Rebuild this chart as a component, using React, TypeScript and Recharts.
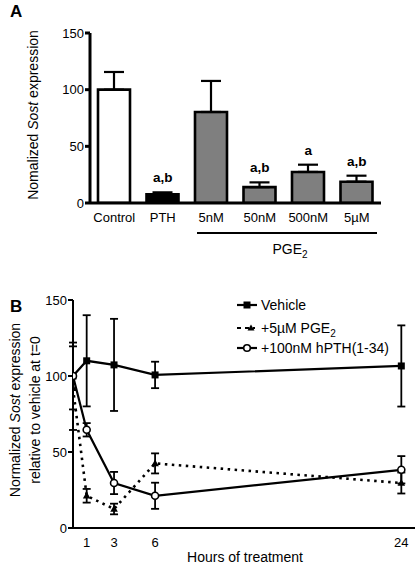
import React from 'react';
import {
  ComposedChart,
  Bar,
  Line,
  XAxis,
  YAxis,
  ErrorBar,
  Cell,
  LabelList,
  LineChart,
} from 'recharts';

// ---------- Panel A data ----------
const categories = ['Control', 'PTH', '5nM', '50nM', '500nM', '5µM'];
const expression = [100, 7.6, 80.3, 14, 27.4, 18.8];
const expressionErr = [15.6, 1.8, 27.4, 4.2, 6.4, 5.3];
const sigLabels = ['', 'a,b', '', 'a,b', 'a', 'a,b'];
const barColors = ['#ffffff', '#000000', '#7f7f7f', '#7f7f7f', '#7f7f7f', '#7f7f7f'];
const yTicksA = [0, 50, 100, 150];

// ---------- Panel B data ----------
const hours = [0, 1, 3, 6, 24];
const vehicle = [100, 110, 107.3, 100.7, 106.6];
const vehicleErr = [22, 30, 30.3, 8.7, 26.7];
const pge2 = [92, 21.2, 12.5, 42.5, 29.6];
const pge2Err = [27.5, 4.5, 3.5, 6.6, 6.9];
const pth = [100, 64.6, 29.6, 21.2, 38.3];
const pthErr = [0, 4.4, 7.3, 8.6, 9];
const xTicksB = [1, 3, 6, 24];
const yTicksB = [0, 50, 100, 150];

const FONT = '"Liberation Sans", Arial, Helvetica, sans-serif';

const dataA = categories.map((c, i) => ({
  name: c,
  value: expression[i],
  err: [0, expressionErr[i]],
  top: expression[i] + expressionErr[i],
  sig: sigLabels[i],
}));

const dataB = hours.map((h, i) => ({
  h,
  vehicle: vehicle[i],
  vehicleErr: vehicleErr[i],
  pge2: pge2[i],
  pge2Err: pge2Err[i],
  pth: pth[i],
  pthErr: pthErr[i],
}));

const SquareDot = (props: any) => {
  const { cx, cy } = props;
  if (cx == null || cy == null) return null;
  return <rect x={cx - 3.5} y={cy - 3.5} width={7} height={7} fill="#000" />;
};
const TriDot = (props: any) => {
  const { cx, cy } = props;
  if (cx == null || cy == null) return null;
  return (
    <polygon
      points={`${cx},${cy - 4} ${cx - 3.8},${cy + 2.8} ${cx + 3.8},${cy + 2.8}`}
      fill="#000"
    />
  );
};
const CircleDot = (props: any) => {
  const { cx, cy } = props;
  if (cx == null || cy == null) return null;
  return <circle cx={cx} cy={cy} r={3.5} fill="#fff" stroke="#000" strokeWidth={1.6} />;
};

const SigLabel = (props: any) => {
  const { x, y, value } = props;
  if (!value) return null;
  return (
    <text
      x={x}
      y={y - 10}
      textAnchor="middle"
      fontFamily={FONT}
      fontWeight="bold"
      fontSize={13.5}
      fill="#000"
    >
      {value}
    </text>
  );
};

export default function App() {
  return (
    <div
      style={{
        position: 'absolute',
        left: 0,
        top: 0,
        width: 419,
        height: 567,
        background: '#fff',
        fontFamily: FONT,
      }}
    >
      {/* Panel A */}
      <div style={{ position: 'absolute', left: 0, top: 0 }}>
        <ComposedChart
          width={419}
          height={280}
          data={dataA}
          margin={{ top: 33, right: 38, bottom: 57, left: 50 }}
          barCategoryGap="17%"
        >
          <XAxis
            dataKey="name"
            axisLine={{ stroke: '#000', strokeWidth: 3 }}
            tickLine={false}
            tick={{ fill: '#000', fontSize: 13, fontFamily: FONT }}
            tickMargin={4}
            height={20}
            interval={0}
          />
          <YAxis
            domain={[0, 150]}
            ticks={yTicksA}
            width={40}
            axisLine={{ stroke: '#000', strokeWidth: 3 }}
            tickLine={{ stroke: '#000', strokeWidth: 3 }}
            tickSize={5}
            tickMargin={1}
            tick={{ fill: '#000', fontSize: 13, fontFamily: FONT }}
            allowDataOverflow
          />
          <Bar dataKey="value" barSize={32} stroke="#000" strokeWidth={2.6} isAnimationActive={false}>
            {dataA.map((d, i) => (
              <Cell key={i} fill={barColors[i]} />
            ))}
            <ErrorBar dataKey="err" direction="y" width={10} stroke="#000" strokeWidth={2.2} />
          </Bar>
          <Line
            dataKey="top"
            stroke="none"
            dot={false}
            activeDot={false}
            isAnimationActive={false}
            legendType="none"
          >
            <LabelList dataKey="sig" content={SigLabel} />
          </Line>
        </ComposedChart>
        <div
          style={{
            position: 'absolute',
            left: 10,
            top: 2,
            fontSize: 17,
            fontWeight: 'bold',
            fontFamily: FONT,
          }}
        >
          A
        </div>
        <svg
          width={419}
          height={280}
          style={{ position: 'absolute', left: 0, top: 0, pointerEvents: 'none' }}
        >
          <text
            transform="translate(38,115) rotate(-90)"
            textAnchor="middle"
            fontFamily={FONT}
            fontSize={14}
            fill="#000"
          >
            Nomalized <tspan fontStyle="italic">Sost</tspan> expression
          </text>
          <line x1={197} x2={377} y1={233} y2={233} stroke="#000" strokeWidth={2} />
          <text x={290} y={254} textAnchor="middle" fontFamily={FONT} fontSize={14} fill="#000">
            PGE<tspan fontSize={10} dy={4}>2</tspan>
          </text>
        </svg>
      </div>

      {/* Panel B */}
      <div style={{ position: 'absolute', left: 0, top: 280 }}>
        <LineChart
          width={419}
          height={287}
          data={dataB}
          margin={{ top: 20, right: 4, bottom: 19, left: 43 }}
        >
          <XAxis
            dataKey="h"
            type="number"
            domain={[0, 25]}
            ticks={xTicksB}
            axisLine={{ stroke: '#000', strokeWidth: 2 }}
            tickLine={false}
            tick={{ fill: '#000', fontSize: 13, fontFamily: FONT }}
            tickMargin={4}
            height={20}
            allowDataOverflow
          />
          <YAxis
            domain={[0, 150]}
            ticks={yTicksB}
            width={30}
            axisLine={{ stroke: '#000', strokeWidth: 2 }}
            tickLine={{ stroke: '#000', strokeWidth: 2 }}
            tickSize={5}
            tickMargin={1}
            tick={{ fill: '#000', fontSize: 13, fontFamily: FONT }}
            allowDataOverflow
          />
          <Line
            dataKey="pge2"
            stroke="#000"
            strokeWidth={2.6}
            strokeDasharray="2.5 4.5"
            dot={TriDot}
            activeDot={false}
            isAnimationActive={false}
          >
            <ErrorBar dataKey="pge2Err" direction="y" width={4} stroke="#000" strokeWidth={1.8} />
          </Line>
          <Line
            dataKey="vehicle"
            stroke="#000"
            strokeWidth={2.2}
            dot={SquareDot}
            activeDot={false}
            isAnimationActive={false}
          >
            <ErrorBar dataKey="vehicleErr" direction="y" width={4} stroke="#000" strokeWidth={1.8} />
          </Line>
          <Line
            dataKey="pth"
            stroke="#000"
            strokeWidth={2.2}
            dot={CircleDot}
            activeDot={false}
            isAnimationActive={false}
          >
            <ErrorBar dataKey="pthErr" direction="y" width={4} stroke="#000" strokeWidth={1.8} />
          </Line>
        </LineChart>
        <div
          style={{
            position: 'absolute',
            left: 10,
            top: 17,
            fontSize: 17,
            fontWeight: 'bold',
            fontFamily: FONT,
          }}
        >
          B
        </div>
        <svg
          width={419}
          height={287}
          style={{ position: 'absolute', left: 0, top: 0, pointerEvents: 'none' }}
        >
          <text
            transform="translate(20,130) rotate(-90)"
            textAnchor="middle"
            fontFamily={FONT}
            fontSize={14}
            fill="#000"
          >
            Normalized <tspan fontStyle="italic">Sost</tspan> expression
          </text>
          <text
            transform="translate(40,130) rotate(-90)"
            textAnchor="middle"
            fontFamily={FONT}
            fontSize={14}
            fill="#000"
          >
            relative to vehicle at t=0
          </text>
          <text x={245} y={282} textAnchor="middle" fontFamily={FONT} fontSize={14} fill="#000">
            Hours of treatment
          </text>
          <g transform="translate(232,15)" fontFamily={FONT} fontSize={14} fill="#000">
            <line x1={5} x2={25} y1={10} y2={10} stroke="#000" strokeWidth={2.2} />
            <rect x={11.5} y={6.5} width={7} height={7} fill="#000" />
            <text x={29} y={15}>Vehicle</text>

            <line x1={5} x2={23} y1={33} y2={33} stroke="#000" strokeWidth={2.2} strokeDasharray="4 4" />
            <polygon points="19,29.5 15.5,35.5 22.5,35.5" fill="#000" />
            <text x={29} y={38}>
              +5µM PGE<tspan fontSize={10} dy={4}>2</tspan>
            </text>

            <line x1={5} x2={25} y1={53} y2={53} stroke="#000" strokeWidth={2.2} />
            <circle cx={15} cy={53} r={3.3} fill="#fff" stroke="#000" strokeWidth={1.6} />
            <text x={29} y={58}>+100nM hPTH(1-34)</text>
          </g>
        </svg>
      </div>
    </div>
  );
}
